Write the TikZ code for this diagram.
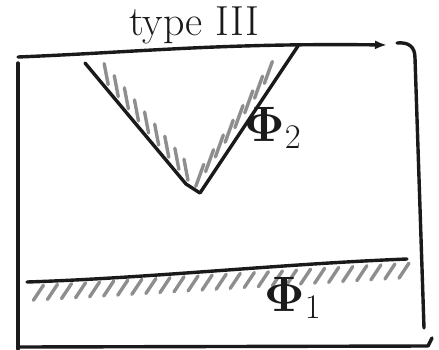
\documentclass[tikz,border=0pt]{standalone}
\usepackage{tikz}
\usetikzlibrary{arrows.meta,calc}
\usepackage{xcolor}
\definecolor{Ink}{HTML}{1A1A1A}
\definecolor{HatchGray}{HTML}{8E8E8E}
\tikzset{
  sketchline/.style={draw=Ink,line width=1.7pt,line cap=round,line join=round},
  hatchstroke/.style={draw=HatchGray,line width=1.7pt,line cap=round},
  labeltext/.style={font=\fontsize{23}{27}\selectfont,inner sep=0pt,text=Ink},
  titletext/.style={font=\fontsize{21}{25}\selectfont,inner sep=0pt,text=Ink}
}

\begin{document}
\begin{tikzpicture}[x=0.5pt,y=-0.5pt]
\useasboundingbox (0,0) rectangle (439,349);
% frame of the sketch
\coordinate (topleft) at (18,57);
\coordinate (toptip) at (387,45);
\coordinate (hookstart) at (397,43);
\coordinate (rightbottom) at (424,328);
\coordinate (leftbottom) at (18,349);
\coordinate (bottomright) at (428,346);
\coordinate (bottomhook) at (432,338);
\draw[sketchline,-{Latex[length=6pt,width=4.5pt]}] (topleft) .. controls (140,52) and (220,43) .. (toptip);
\draw[sketchline] (hookstart) .. controls (408,42) and (415,46) .. (415,58) -- (rightbottom);
\draw[sketchline] (18,63) -- (leftbottom);
\draw[sketchline] (18,347) -- (bottomright) -- (bottomhook);
\node[titletext] (title) at (194,25) {type III};

% V-shaped wedge, hatched inside
\coordinate (vleft) at (85,63);
\coordinate (vkink) at (186,184);
\coordinate (vbot) at (200,193);
\coordinate (vright) at (298,46);
\draw[sketchline] (vleft) -- (vkink) -- (vbot) -- (vright);
\foreach \t in {0.17,0.27,0.37,0.47,0.57,0.67,0.77,0.87,0.96}
  \draw[hatchstroke] ($(vleft)!\t!(vkink)$) ++(6,1) -- ++(-4,-21);
\foreach \t in {0.12,0.22,0.32,0.42,0.52,0.62,0.72,0.82}
  \draw[hatchstroke] ($(vbot)!\t!(vright)$) ++(-16,11) -- ++(8,-22);
\node[labeltext,anchor=west] (phitwo) at (244,128) {$\mathbf{\Phi}_2$};

% lower surface, hatched below
\coordinate (lowleft) at (27,282);
\coordinate (lowright) at (407,259);
\draw[sketchline] (lowleft) .. controls (150,278) and (280,264) .. (lowright);
\foreach \i in {0,...,26}{
  \pgfmathsetmacro{\t}{0.03+\i*0.037}
  \draw[hatchstroke] ($(lowleft)!\t!(lowright)$) ++(5,4) -- ++(-10,15);
}
\node[labeltext,anchor=west] (phione) at (264,298) {$\mathbf{\Phi}_1$};
\end{tikzpicture}
\end{document}
